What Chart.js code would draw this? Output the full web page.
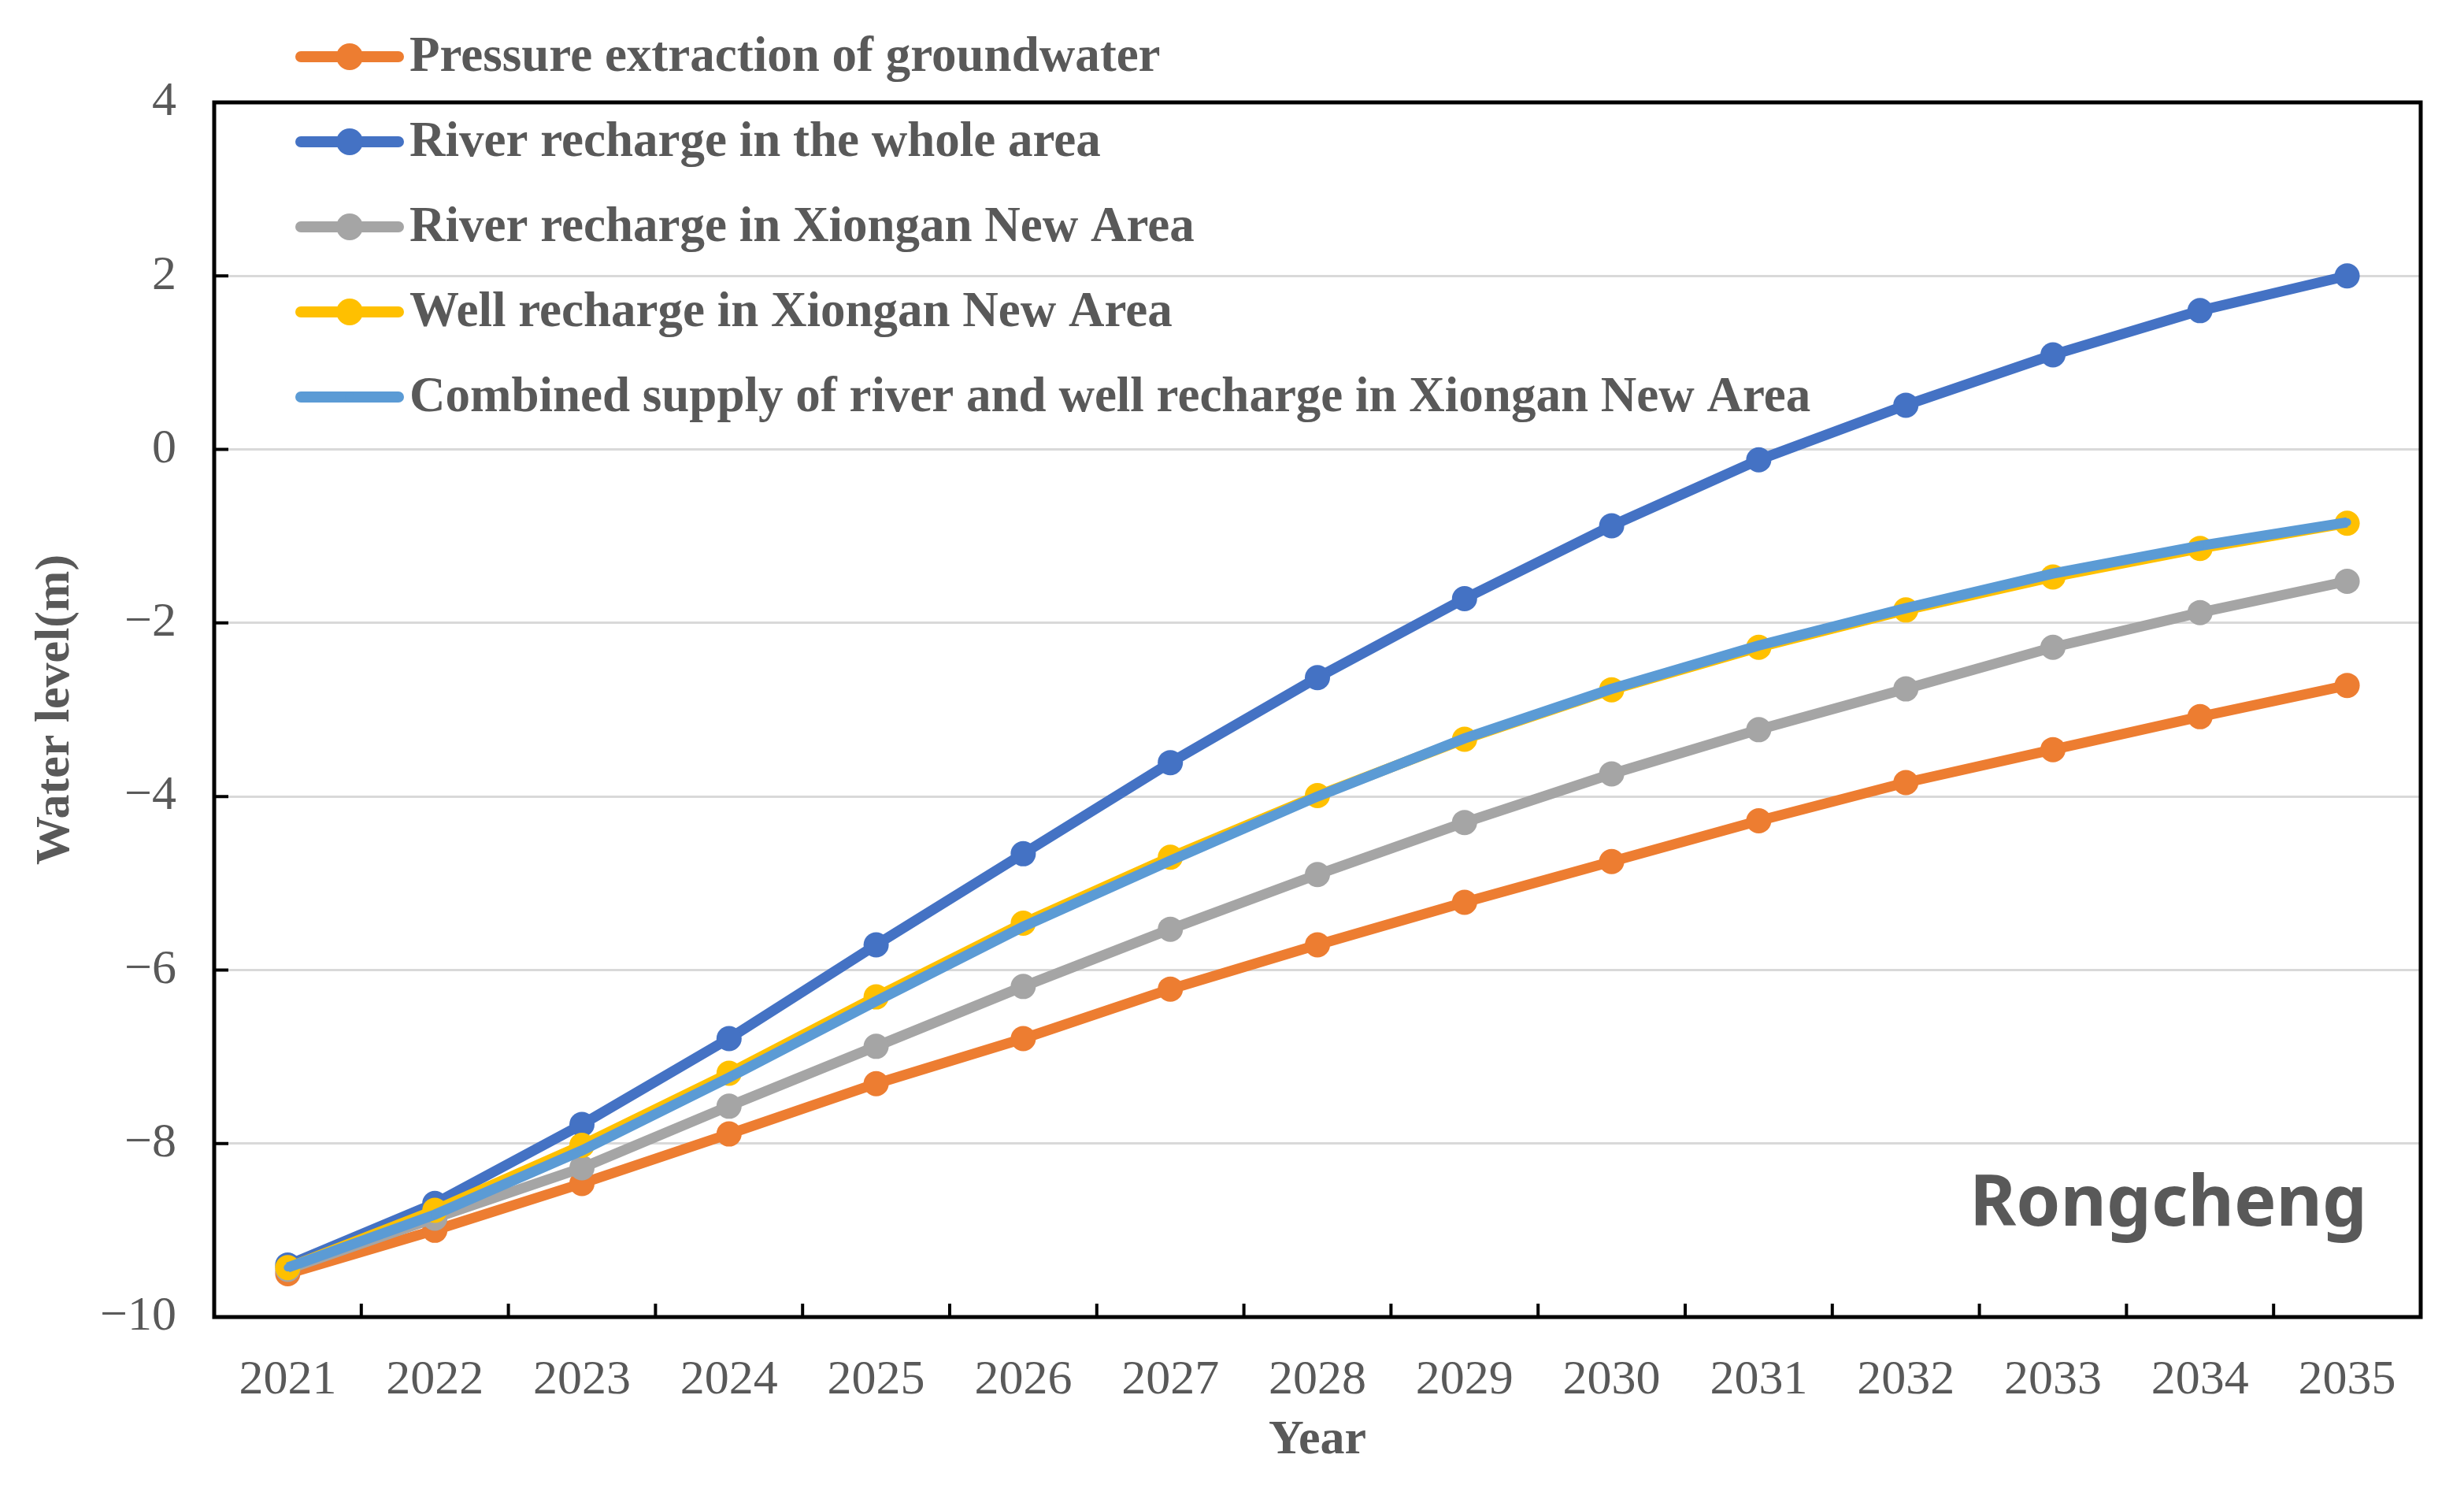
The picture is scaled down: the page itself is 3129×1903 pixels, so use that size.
<!DOCTYPE html>
<html>
<head>
<meta charset="utf-8">
<title>Rongcheng water level</title>
<script src="https://cdn.jsdelivr.net/npm/chart.js@4.4.1/dist/chart.umd.min.js"></script>
<style>
  body { margin: 0; background: #fff; }
  #wrap { width: 3129px; height: 1903px; }
</style>
</head>
<body>
<div id="wrap"><canvas id="line-chart" width="3129" height="1903"></canvas></div>
<script>
// Datos del gráfico
const years = ["2021", "2022", "2023", "2024", "2025", "2026", "2027", "2028", "2029", "2030", "2031", "2032", "2033", "2034", "2035"];
const pressureExtraction = [-9.50, -9.00, -8.46, -7.89, -7.31, -6.79, -6.22, -5.71, -5.22, -4.75, -4.28, -3.84, -3.46, -3.08, -2.72];
const riverWhole = [-9.40, -8.69, -7.78, -6.79, -5.71, -4.66, -3.61, -2.63, -1.72, -0.88, -0.12, 0.51, 1.09, 1.60, 2.00];
const riverXiongan = [-9.45, -8.86, -8.28, -7.57, -6.88, -6.19, -5.53, -4.90, -4.30, -3.74, -3.23, -2.76, -2.28, -1.88, -1.52];
const wellXiongan = [-9.43, -8.77, -8.02, -7.19, -6.31, -5.46, -4.70, -3.99, -3.34, -2.77, -2.28, -1.85, -1.47, -1.14, -0.85];
const combinedXiongan = [-9.43, -8.82, -8.08, -7.24, -6.36, -5.50, -4.74, -4.00, -3.33, -2.76, -2.26, -1.83, -1.43, -1.11, -0.84];
const yTicks = [-10, -8, -6, -4, -2, 0, 2, 4];

const serif = "'Liberation Serif', 'Times New Roman', serif";
const textGray = "#595959";

// Marco negro y marcas hacia dentro
const framePlugin = {
  id: "frame",
  afterDraw(chart) {
    const { ctx, chartArea: a, scales } = chart;
    ctx.save();
    ctx.strokeStyle = "#000";
    ctx.lineWidth = 5;
    ctx.strokeRect(a.left, a.top, a.right - a.left, a.bottom - a.top);
    ctx.lineWidth = 4;
    ctx.beginPath();
    scales.y.ticks.forEach((t, i) => {
      const py = scales.y.getPixelForTick(i);
      ctx.moveTo(a.left, py);
      ctx.lineTo(a.left + 18, py);
    });
    const step = scales.x.getPixelForValue(1) - scales.x.getPixelForValue(0);
    for (let i = 0; i < years.length - 1; i++) {
      const px = scales.x.getPixelForValue(i) + step / 2;
      ctx.moveTo(px, a.bottom);
      ctx.lineTo(px, a.bottom - 17);
    }
    ctx.stroke();
    ctx.restore();
  }
};

// Etiqueta de la zona
const areaLabel = {
  id: "areaLabel",
  afterDraw(chart) {
    const { ctx, chartArea: a } = chart;
    ctx.save();
    ctx.font = "bold 90px 'Noto Sans', 'Open Sans', sans-serif";
    ctx.fillStyle = textGray;
    ctx.textAlign = "right";
    ctx.textBaseline = "middle";
    ctx.fillText("Rongcheng", a.right - 68, a.bottom - 142);
    ctx.restore();
  }
};

// Leyenda en columna arriba a la izquierda
const columnLegend = {
  id: "columnLegend",
  afterDraw(chart) {
    const { ctx } = chart;
    const x0 = 382, x1 = 506, top = 72, gap = 108;
    ctx.save();
    ctx.font = "bold 63px " + serif;
    ctx.textBaseline = "middle";
    ctx.lineCap = "round";
    chart.data.datasets.forEach((ds, i) => {
      const y = top + i * gap;
      ctx.strokeStyle = ds.borderColor;
      ctx.lineWidth = 14;
      ctx.beginPath();
      ctx.moveTo(x0, y);
      ctx.lineTo(x1, y);
      ctx.stroke();
      if (ds.pointRadius > 0) {
        ctx.fillStyle = ds.borderColor;
        ctx.beginPath();
        ctx.arc((x0 + x1) / 2, y, ds.pointRadius + 1, 0, Math.PI * 2);
        ctx.fill();
      }
      ctx.fillStyle = textGray;
      ctx.fillText(ds.label, 520, y + 2);
    });
    ctx.restore();
  }
};

function serie(label, data, color, radius, order) {
  return {
    label: label,
    data: data,
    borderColor: color,
    backgroundColor: color,
    borderWidth: 13,
    pointRadius: radius,
    pointHoverRadius: radius,
    pointBorderWidth: 0,
    fill: false,
    tension: 0,
    order: order
  };
}

new Chart(document.getElementById("line-chart"), {
  type: "line",
  data: {
    labels: years,
    datasets: [
      serie("Pressure extraction of groundwater", pressureExtraction, "#ED7D31", 16, 5),
      serie("River recharge in the whole area", riverWhole, "#4472C4", 16, 4),
      serie("River recharge in Xiongan New Area", riverXiongan, "#A5A5A5", 16, 3),
      serie("Well recharge in Xiongan New Area", wellXiongan, "#FFC000", 16, 2),
      serie("Combined supply of river and well recharge in Xiongan New Area", combinedXiongan, "#5B9BD5", 5, 1)
    ]
  },
  options: {
    responsive: false,
    devicePixelRatio: 1,
    animation: false,
    layout: { padding: { left: 0, right: 55, top: 130, bottom: 0 } },
    plugins: {
      legend: { display: false },
      tooltip: { enabled: false }
    },
    scales: {
      x: {
        offset: true,
        grid: { display: false, drawTicks: false },
        border: { display: false },
        ticks: { color: textGray, font: { family: serif, size: 62 }, padding: 44, maxRotation: 0 },
        title: { display: true, text: "Year", color: textGray, font: { family: serif, size: 62, weight: "bold" }, padding: { top: 0, bottom: 37 } },
        afterFit(scale) { scale.height = 231; }
      },
      y: {
        min: -10,
        max: 4,
        afterBuildTicks(scale) { scale.ticks = yTicks.map(v => ({ value: v })); },
        grid: { color: "#D9D9D9", lineWidth: 3, drawTicks: false },
        border: { display: false },
        ticks: {
          color: textGray,
          font: { family: serif, size: 62 },
          padding: 48,
          callback: v => (v < 0 ? "\u2212" + Math.abs(v) : String(v))
        },
        title: { display: true, text: "Water level(m)", color: textGray, font: { family: serif, size: 62, weight: "bold" }, padding: { top: 34, bottom: 0 } },
        afterFit(scale) { scale.width = 272; }
      }
    }
  },
  plugins: [framePlugin, areaLabel, columnLegend]
});
</script>
</body>
</html>
